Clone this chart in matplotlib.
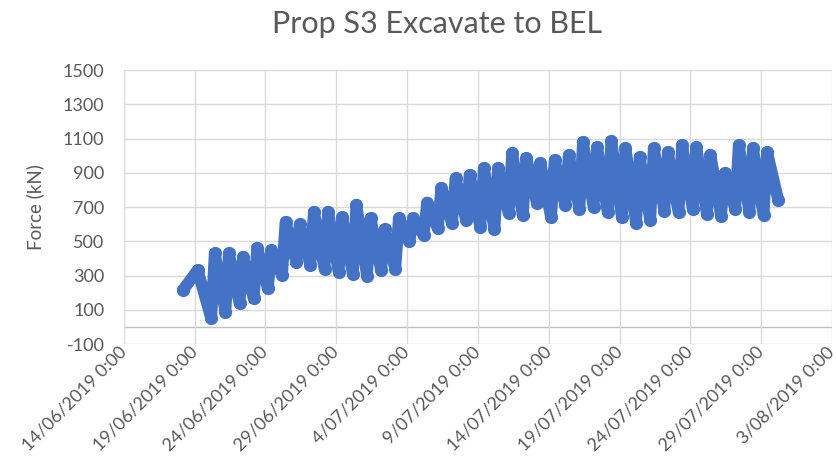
import matplotlib
matplotlib.use("Agg")
import matplotlib.pyplot as plt
import matplotlib.transforms as mtransforms
import pandas as pd

# ---- data ----
title = "Prop S3 Excavate to BEL"
y_label = "Force (kN)"

# first two isolated readings
start_times = ["2019-06-18 04:00", "2019-06-19 05:00"]
start_values = [215, 332]

# daily cycle: one trough (early morning) and one peak (mid-morning) per day
cycle_first_day = "2019-06-20"
daily_troughs = [50, 89, 138, 167, 225, 303, 380, 361, 340, 322,
                 310, 300, 330, 340, 500, 537, 576, 606, 624, 583,
                 570, 665, 653, 723, 640, 712, 690, 700, 671, 640,
                 606, 624, 680, 670, 690, 660, 650, 690, 671, 653]
daily_peaks = [430, 430, 410, 462, 449, 614, 599, 673, 673, 640,
               714, 635, 570, 635, 635, 727, 813, 868, 887, 928,
               928, 1015, 986, 957, 974, 1004, 1080, 1050, 1085, 1045,
               992, 1045, 1021, 1062, 1050, 1004, 898, 1062, 1045, 1021]
trough_hour = 4
peak_hour = 10
end_time = "2019-07-30 05:00"
end_value = 741

x_start = "2019-06-14"
x_end = "2019-08-03"
y_ticks = [-100, 100, 300, 500, 700, 900, 1100, 1300, 1500]

# ---- build series ----
days = pd.date_range(cycle_first_day, periods=len(daily_peaks), freq="D")
times = list(pd.to_datetime(start_times))
values = list(start_values)
for d, tr, pk in zip(days, daily_troughs, daily_peaks):
    times.append(d + pd.Timedelta(hours=trough_hour))
    values.append(tr)
    times.append(d + pd.Timedelta(hours=peak_hour))
    values.append(pk)
times.append(pd.to_datetime(end_time))
values.append(end_value)

# ---- plot ----
plt.rcParams['font.family'] = ['Lato', 'DejaVu Sans']
plt.rcParams['axes.unicode_minus'] = False
fig = plt.figure(figsize=(8.37, 4.65), dpi=100)
ax = fig.add_axes([0.148, 0.260, 0.846, 0.589])

blue = "#4472C4"
ax.plot(times, values, color=blue, linewidth=8.5, marker="o", markersize=8.5,
        solid_capstyle="round", solid_joinstyle="round", zorder=3)

ax.set_xlim(pd.to_datetime(x_start), pd.to_datetime(x_end))
ax.set_ylim(-100, 1500)
ax.set_yticks(y_ticks)

xt = pd.date_range(x_start, x_end, freq="5D")
ax.set_xticks(xt)
ax.set_xticklabels([f"{d.day}/{d.month:02d}/{d.year} 0:00" for d in xt],
                   rotation=45, ha="right", va="center", rotation_mode="anchor")
shift = mtransforms.ScaledTranslation(-4 / 100, -4 / 100, fig.dpi_scale_trans)
for lab in ax.get_xticklabels():
    lab.set_transform(lab.get_transform() + shift)

grid_c = "#D9D9D9"
ax.grid(True, color=grid_c, linewidth=1, zorder=0)
ax.axhline(0, color="#BFBFBF", linewidth=1, zorder=1)
for s in ax.spines.values():
    s.set_visible(False)
ax.tick_params(axis="both", length=0, colors="#595959", labelsize=13)
ax.tick_params(axis="x", pad=4)
ax.tick_params(axis="y", pad=14)

ax.set_ylabel(y_label, color="#595959", fontsize=13.5)
ax.yaxis.set_label_coords(-0.112, 0.5)
fig.text(0.522, 0.948, title, ha="center", va="center", color="#595959",
         fontsize=22)

fig.savefig("out.png", dpi=100)
